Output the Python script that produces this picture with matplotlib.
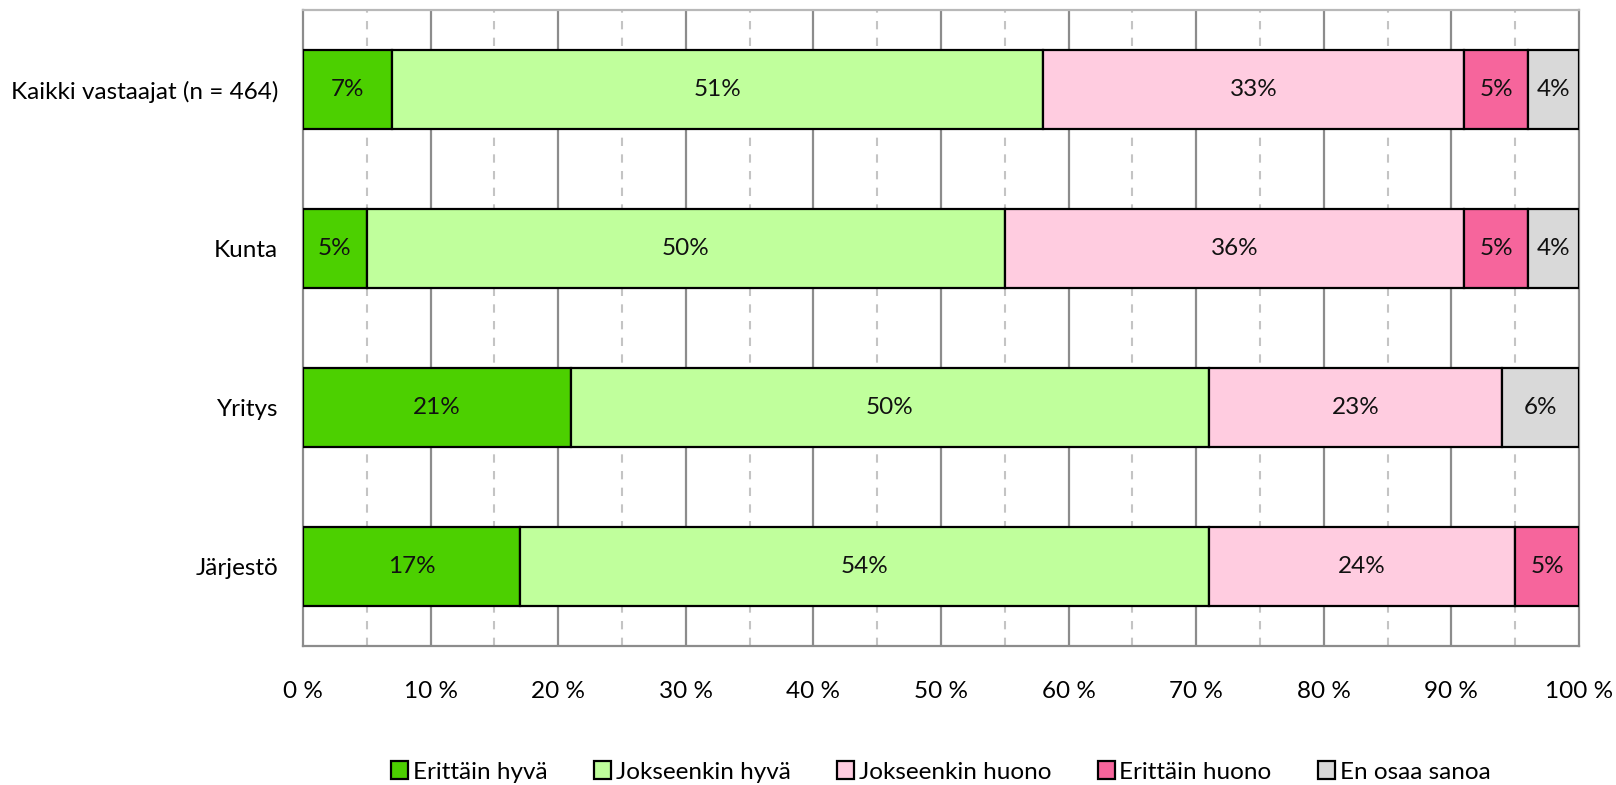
import matplotlib
matplotlib.use("Agg")
import matplotlib.pyplot as plt
import numpy as np

plt.rcParams['font.family'] = ['Lato', 'DejaVu Sans']

categories = ["Kaikki vastaajat (n = 464)", "Kunta", "Yritys", "Järjestö"]
series_names = ["Erittäin hyvä", "Jokseenkin hyvä", "Jokseenkin huono", "Erittäin huono", "En osaa sanoa"]
erittain_hyva = [7, 5, 21, 17]
jokseenkin_hyva = [51, 50, 50, 54]
jokseenkin_huono = [33, 36, 23, 24]
erittain_huono = [5, 5, 0, 5]
en_osaa = [4, 4, 6, 0]
colors = ["#4CD000", "#C0FF9C", "#FFCCE0", "#F6659C", "#D9D9D9"]
xticks = [0, 10, 20, 30, 40, 50, 60, 70, 80, 90, 100]
xtick_labels = [f"{t} %" for t in xticks]

data = [erittain_hyva, jokseenkin_hyva, jokseenkin_huono, erittain_huono, en_osaa]
FS = 17.5

fig = plt.figure(figsize=(16.16, 7.85), dpi=100)
ax = fig.add_axes([303/1616, 1-646/785, (1579-303)/1616, (646-10)/785])

y = np.arange(len(categories))
left = np.zeros(len(categories))
handles = []
for vals, name, c in zip(data, series_names, colors):
    vals = np.array(vals, dtype=float)
    bars = ax.barh(y, vals, left=left, height=0.5, color=c, edgecolor='black',
                   linewidth=1.6, label=name, zorder=3)
    for b, v in zip(bars, vals):
        if v > 0:
            ax.text(b.get_x() + b.get_width()/2, b.get_y() + b.get_height()/2,
                    f"{int(v)}%", ha='center', va='center', fontsize=FS, color='#111111', zorder=4)
        else:
            b.set_visible(False)
    handles.append(bars)
    left += vals

ax.set_xlim(0, 100)
ax.set_ylim(3.5, -0.5)
ax.set_yticks(y)
ax.set_yticklabels(categories, fontsize=FS)
ax.set_xticks(xticks)
ax.set_xticklabels(xtick_labels, fontsize=FS)
ax.tick_params(axis='both', length=0)
ax.tick_params(axis='x', pad=25)
ax.tick_params(axis='y', pad=18)

for t in range(5, 100, 10):
    ax.axvline(t, color='#c4c4c4', linewidth=1.5, linestyle=(0, (4, 4)), zorder=1)
for t in range(10, 100, 10):
    ax.axvline(t, color='#8c8c8c', linewidth=1.6, zorder=1)
for s in ax.spines.values():
    s.set_color('#8c8c8c')
    s.set_linewidth(1.6)
ax.spines['top'].set_color('#b8b8b8')

leg = ax.legend(handles=handles, labels=series_names, loc='center', bbox_to_anchor=(0.5, (646-772)/(646-10)),
                ncol=5, frameon=False, fontsize=FS, handlelength=0.7, handleheight=0.7,
                handletextpad=0.2, columnspacing=1.9)

fig.savefig("out.png", dpi=100)
